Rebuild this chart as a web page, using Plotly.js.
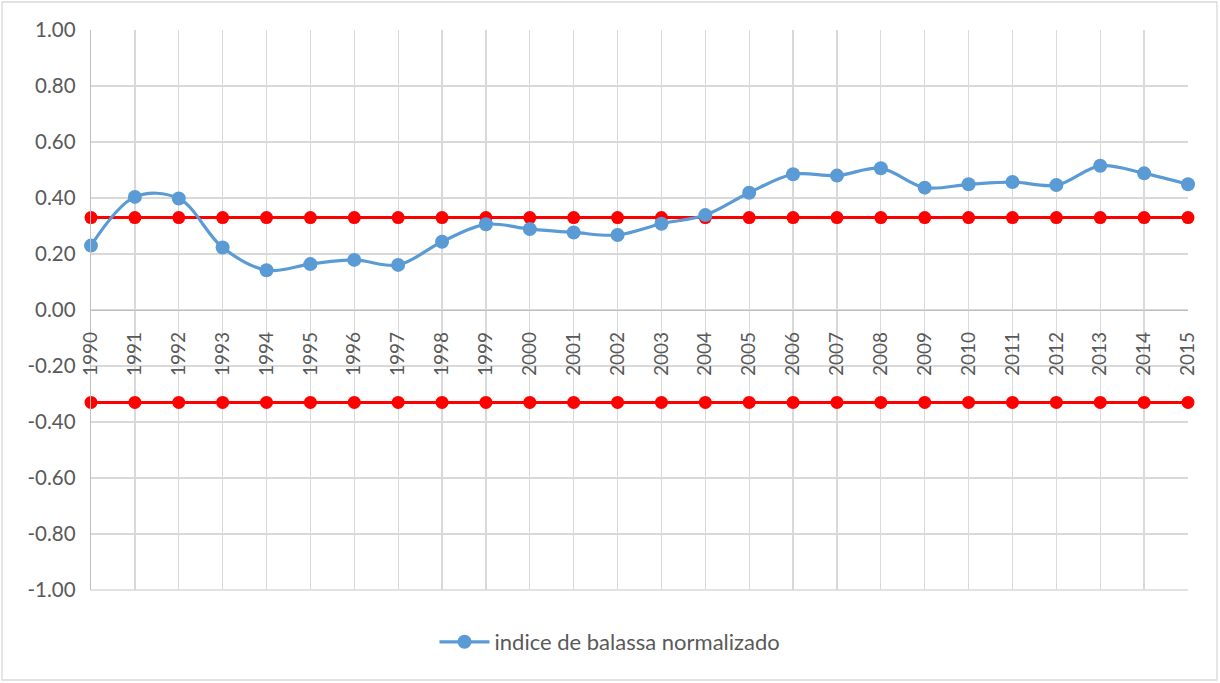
<!DOCTYPE html>
<html>
<head>
<meta charset="utf-8">
<script src="https://cdn.plot.ly/plotly-3.0.1.min.js"></script>
<style>html,body{margin:0;padding:0;background:#fff;}#chart{width:1220px;height:683px;}</style>
</head>
<body>
<div id="chart"></div>
<script>
const years = ["1990","1991","1992","1993","1994","1995","1996","1997","1998","1999","2000","2001","2002","2003","2004","2005","2006","2007","2008","2009","2010","2011","2012","2013","2014","2015"];
const balassa = [0.230,0.404,0.398,0.223,0.142,0.164,0.179,0.161,0.244,0.306,0.289,0.277,0.268,0.308,0.339,0.419,0.485,0.480,0.506,0.437,0.449,0.457,0.446,0.515,0.488,0.449];
const upperBand = years.map(() => 0.33);
const lowerBand = years.map(() => -0.33);
const yTickVals = [-1,-0.8,-0.6,-0.4,-0.2,0,0.2,0.4,0.6,0.8,1];
const yTickText = ["-1.00","-0.80","-0.60","-0.40","-0.20","0.00","0.20","0.40","0.60","0.80","1.00"];

const font = "Lato, 'Open Sans', sans-serif";
const txt = "#595959";

const traces = [
  {x: years, y: upperBand, type: "scatter", mode: "lines+markers", showlegend: false,
   line: {color: "#FF0000", width: 3}, marker: {color: "#FF0000", size: 13}, cliponaxis: false},
  {x: years, y: lowerBand, type: "scatter", mode: "lines+markers", showlegend: false,
   line: {color: "#FF0000", width: 3}, marker: {color: "#FF0000", size: 13}, cliponaxis: false},
  {x: years, y: balassa, type: "scatter", mode: "lines+markers", name: "indice de balassa normalizado",
   line: {color: "#5B9BD5", width: 3.2, shape: "spline", smoothing: 1}, marker: {color: "#5B9BD5", size: 14}, cliponaxis: false}
];

const layout = {
  width: 1220, height: 683,
  margin: {l: 91, r: 32, t: 30, b: 93},
  paper_bgcolor: "#fff", plot_bgcolor: "#fff",
  font: {family: font, color: txt, size: 19},
  xaxis: {
    type: "category", range: [0, 25], anchor: "free", position: 0.5,
    tickangle: -90, showgrid: true, gridcolor: "#D9D9D9", gridwidth: 1.3,
    showline: true, linecolor: "#BFBFBF", linewidth: 1.3,
    ticks: "", ticklabelstandoff: 13, tickfont: {family: font, size: 19, color: txt},
    zeroline: false, fixedrange: true
  },
  yaxis: {
    range: [-1, 1], tickvals: yTickVals, ticktext: yTickText,
    showgrid: true, gridcolor: "#D9D9D9", gridwidth: 1.3,
    showline: true, linecolor: "#BFBFBF", linewidth: 1.3,
    zeroline: false, ticks: "", ticklabelstandoff: 10,
    tickfont: {family: font, size: 20.5, color: txt}, fixedrange: true
  },
  showlegend: true,
  legend: {orientation: "h", xref: "container", yref: "container", x: 0.5, xanchor: "center",
           y: 0.06, yanchor: "middle", font: {family: font, size: 22, color: txt}, bgcolor: "rgba(0,0,0,0)",
           itemwidth: 50},
  shapes: [
    {type: "line", xref: "paper", yref: "paper", x0: 0, x1: 1, y0: 0, y1: 0, line: {color: "#D9D9D9", width: 1.3}, layer: "below"},
    {type: "rect", xref: "paper", yref: "paper", x0: -0.0811, x1: 1.0264, y0: -0.1607, y1: 1.05, line: {color: "#D9D9D9", width: 1.3}, layer: "below"}
  ]
};

Plotly.newPlot("chart", traces, layout, {displayModeBar: false, staticPlot: true});
</script>
</body>
</html>
